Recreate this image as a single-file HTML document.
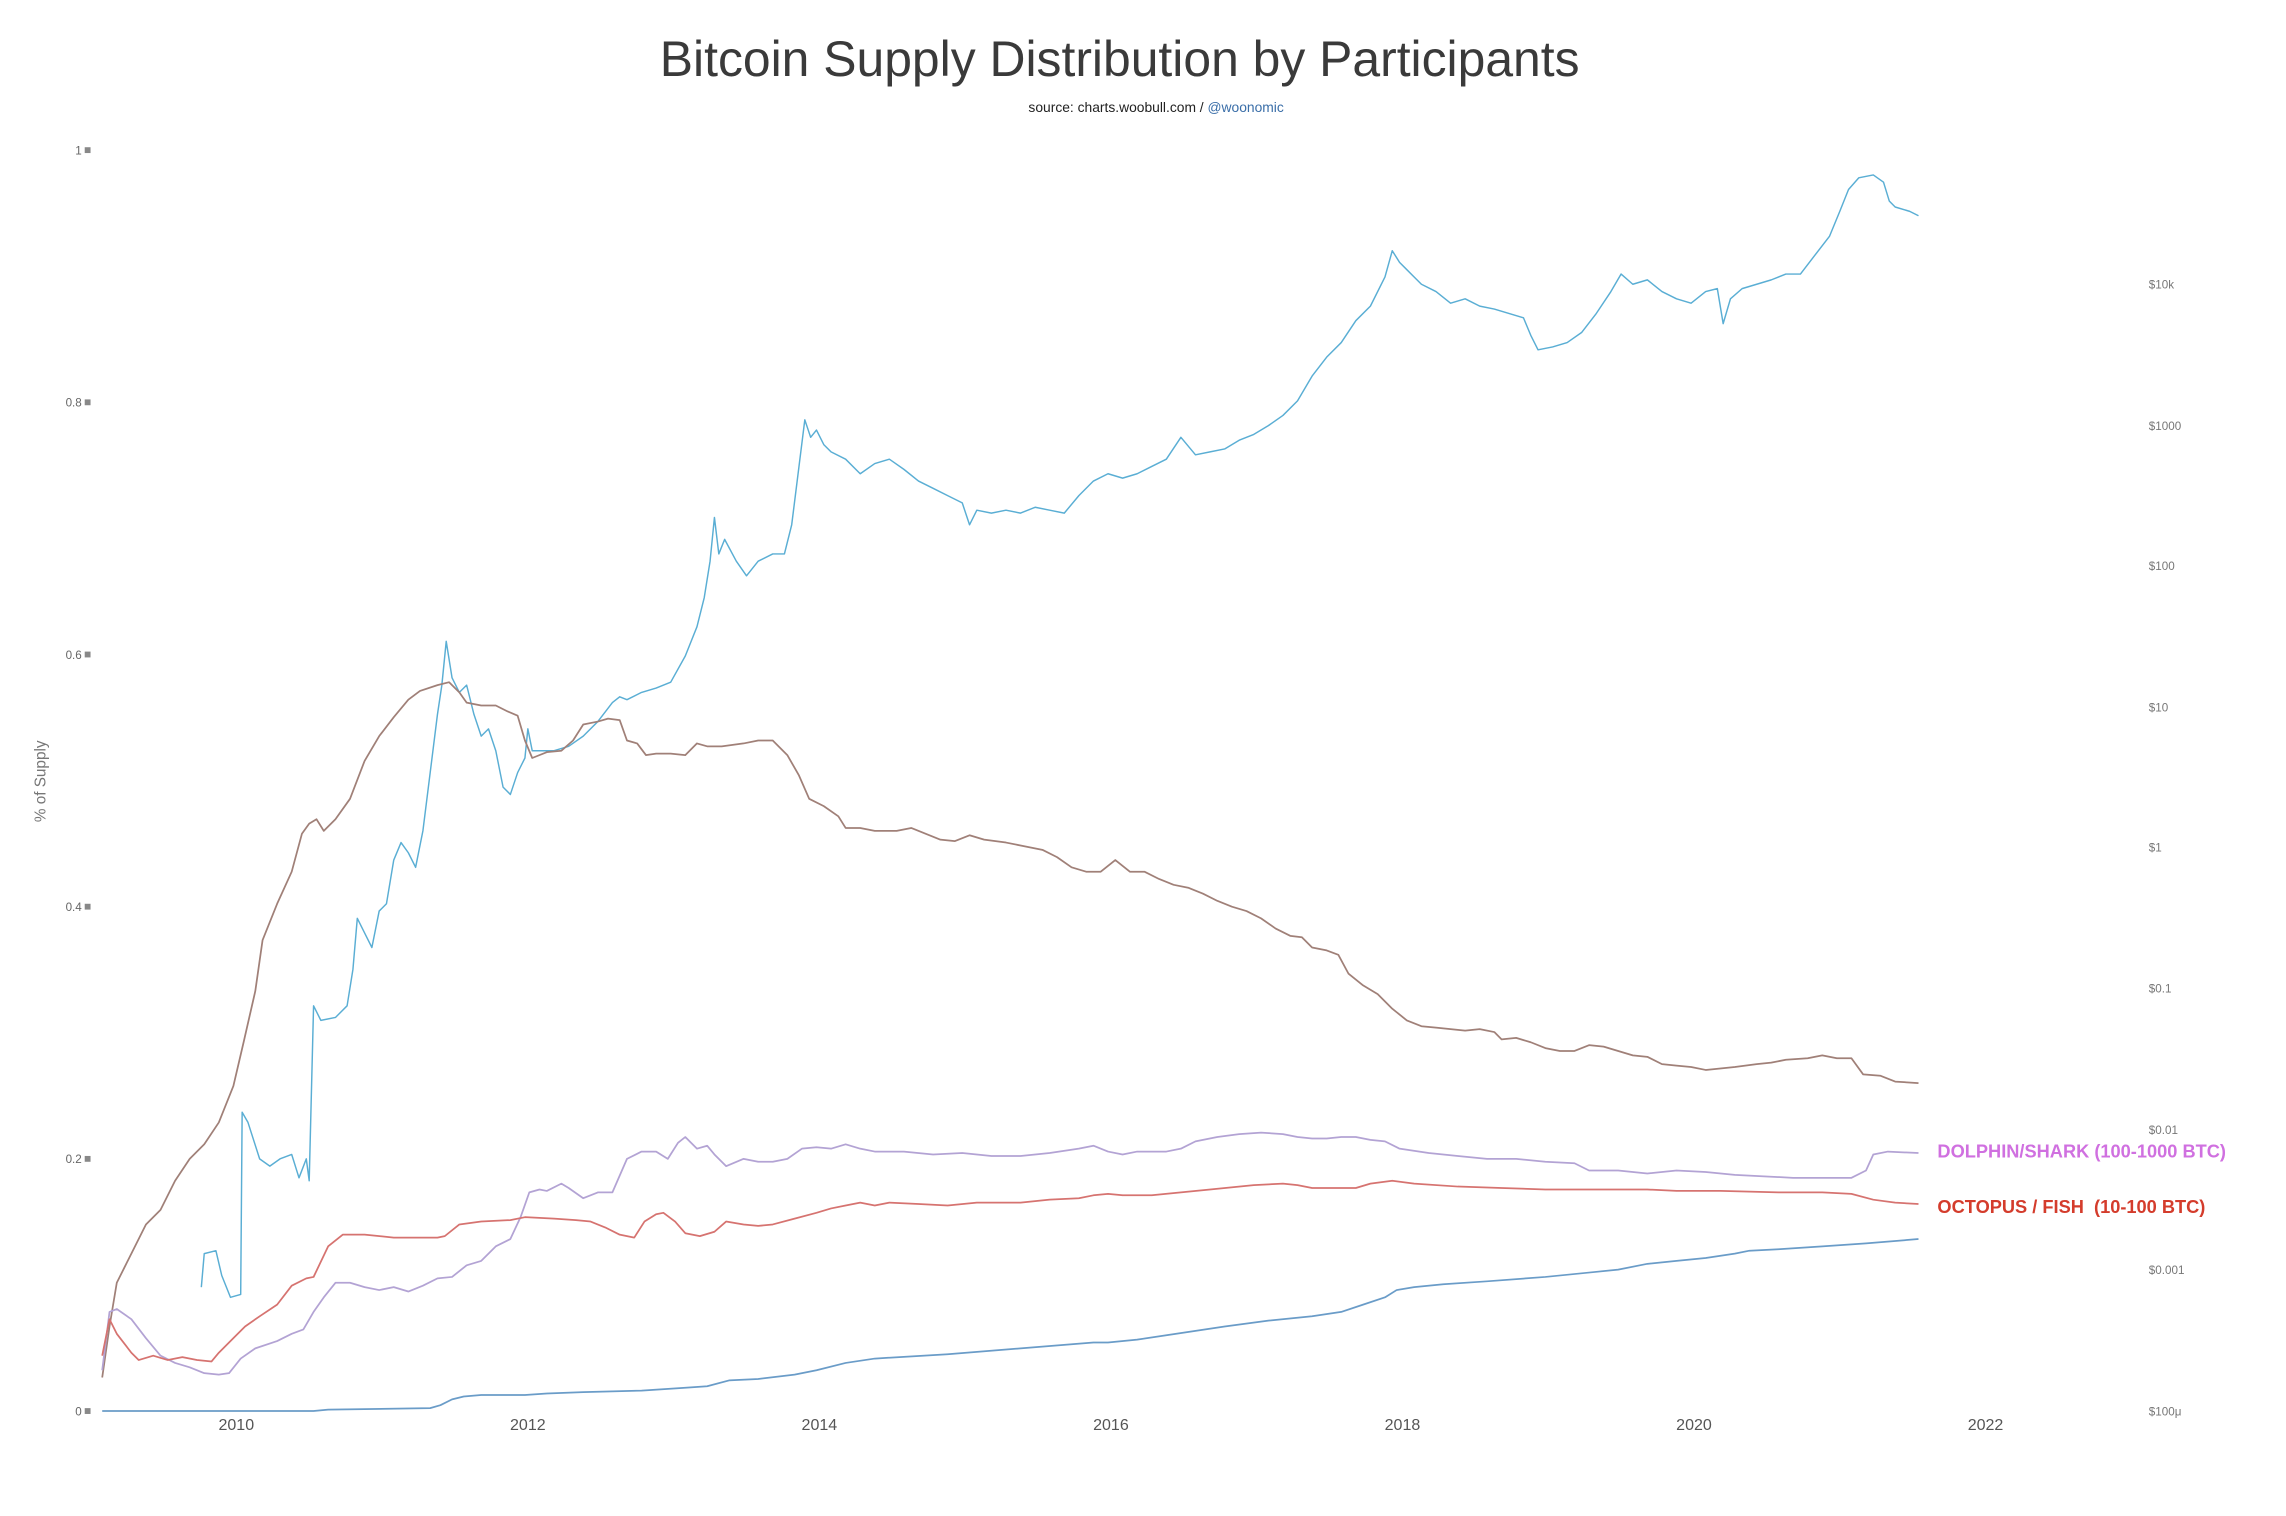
<!DOCTYPE html>
<html><head><meta charset="utf-8"><style>
html,body{margin:0;padding:0;background:#fff;}
svg{display:block;font-family:"Liberation Sans",sans-serif;}
</style></head><body>
<svg width="2286" height="1516" viewBox="0 0 1568 1040" xmlns="http://www.w3.org/2000/svg">
<rect width="1568" height="1040" fill="#fff"/>
<text x="768" y="52" text-anchor="middle" font-size="34.2" fill="#3a3a3a" font-weight="300">Bitcoin Supply Distribution by Participants</text>
<text x="793" y="77" text-anchor="middle" font-size="9.5" fill="#222">source: charts.woobull.com / <tspan fill="#3a6ea8">@woonomic</tspan></text>
<g font-size="8" fill="#666" text-anchor="end">
<text x="56" y="106">1</text><rect x="58" y="101" width="4" height="4" fill="#888"/>
<text x="56" y="279">0.8</text><rect x="58" y="274" width="4" height="4" fill="#888"/>
<text x="56" y="452">0.6</text><rect x="58" y="447" width="4" height="4" fill="#888"/>
<text x="56" y="625">0.4</text><rect x="58" y="620" width="4" height="4" fill="#888"/>
<text x="56" y="798">0.2</text><rect x="58" y="793" width="4" height="4" fill="#888"/>
<text x="56" y="971">0</text><rect x="58" y="966" width="4" height="4" fill="#888"/>
</g>
<text transform="translate(31,536) rotate(-90)" text-anchor="middle" font-size="10.5" fill="#777">% of Supply</text>
<g font-size="11" fill="#555" text-anchor="middle">
<text x="162" y="981">2010</text><text x="362" y="981">2012</text><text x="562" y="981">2014</text><text x="762" y="981">2016</text><text x="962" y="981">2018</text><text x="1162" y="981">2020</text><text x="1362" y="981">2022</text>
</g>
<g font-size="8" fill="#777">
<text x="1474" y="198">$10k</text><text x="1474" y="295">$1000</text><text x="1474" y="391">$100</text><text x="1474" y="488">$10</text><text x="1474" y="584">$1</text><text x="1474" y="681">$0.1</text><text x="1474" y="778">$0.01</text><text x="1474" y="874">$0.001</text><text x="1474" y="971">$100μ</text>
</g>
<g fill="none" stroke-width="1.2" stroke-linejoin="round">
<polyline stroke="#5aaed4" stroke-width="1" points="138,883 140,860 148,858 152,875 158,890 165,888 166,763 170,770 178,795 185,800 192,795 200,792 205,808 210,795 212,810 215,690 220,700 230,698 238,690 242,665 245,630 250,640 255,650 260,625 265,620 270,590 275,578 280,585 285,595 290,570 295,530 300,490 303,470 306,440 310,465 315,475 320,470 325,490 330,505 335,500 340,515 345,540 350,545 355,530 360,520 362,500 365,515 372,515 380,515 390,512 400,505 410,495 420,482 425,478 430,480 440,475 450,472 460,468 470,450 478,430 483,410 487,385 490,355 493,380 497,370 505,385 512,395 520,385 530,380 538,380 543,360 548,320 552,288 556,300 560,295 565,305 570,310 580,315 590,325 600,318 610,315 620,322 630,330 640,335 650,340 660,345 665,360 670,350 680,352 690,350 700,352 710,348 720,350 730,352 740,340 750,330 760,325 770,328 780,325 790,320 800,315 810,300 820,312 830,310 840,308 850,302 860,298 870,292 880,285 890,275 900,258 910,245 920,235 930,220 940,210 950,190 955,172 960,180 965,185 970,190 975,195 985,200 995,208 1005,205 1015,210 1025,212 1035,215 1045,218 1050,230 1055,240 1065,238 1075,235 1085,228 1095,215 1105,200 1112,188 1120,195 1130,192 1140,200 1150,205 1160,208 1170,200 1178,198 1182,222 1187,205 1195,198 1205,195 1215,192 1225,188 1235,188 1245,175 1255,162 1262,145 1268,130 1275,122 1285,120 1292,125 1296,138 1300,142 1310,145 1316,148"/>
<polyline stroke="#a08078" points="70,945 75,910 80,880 85,870 90,860 100,840 110,830 120,810 130,795 140,785 150,770 160,745 167,715 175,680 180,645 190,620 200,598 207,572 212,565 217,562 222,570 230,562 240,548 250,522 260,505 270,492 280,480 288,474 300,470 308,468 315,475 320,482 330,484 340,484 348,488 355,491 360,508 365,520 375,516 385,515 393,508 400,497 410,495 417,493 425,494 430,508 437,510 443,518 450,517 460,517 470,518 478,510 485,512 495,512 510,510 520,508 530,508 540,518 548,532 555,548 565,553 575,560 580,568 590,568 600,570 615,570 625,568 635,572 645,576 655,577 665,573 675,576 690,578 700,580 715,583 725,588 735,595 745,598 755,598 765,590 775,598 785,598 795,603 805,607 815,609 825,613 835,618 845,622 855,625 865,630 875,637 885,642 893,643 900,650 910,652 918,655 925,668 935,676 945,682 955,692 965,700 975,704 985,705 995,706 1005,707 1015,706 1025,708 1030,713 1040,712 1050,715 1060,719 1070,721 1080,721 1090,717 1100,718 1110,721 1120,724 1130,725 1140,730 1150,731 1160,732 1170,734 1180,733 1190,732 1205,730 1215,729 1225,727 1240,726 1250,724 1260,726 1270,726 1278,737 1290,738 1300,742 1316,743"/>
<polyline stroke="#b3a3d4" points="70,940 75,900 80,898 90,905 100,918 110,930 120,935 130,938 140,942 150,943 157,942 165,932 175,925 190,920 200,915 208,912 215,900 222,890 230,880 240,880 250,883 260,885 270,883 280,886 290,882 300,877 310,876 320,868 330,865 340,855 350,850 357,835 363,818 370,816 375,817 385,812 390,815 400,822 410,818 420,818 430,795 440,790 450,790 458,795 465,784 470,780 478,788 485,786 490,792 498,800 510,795 520,797 530,797 540,795 550,788 560,787 570,788 580,785 590,788 600,790 620,790 640,792 660,791 680,793 700,793 720,791 740,788 750,786 760,790 770,792 780,790 790,790 800,790 810,788 820,783 835,780 850,778 865,777 880,778 890,780 900,781 910,781 920,780 930,780 940,782 950,783 960,788 980,791 1000,793 1020,795 1040,795 1060,797 1080,798 1090,803 1110,803 1130,805 1150,803 1170,804 1190,806 1210,807 1230,808 1250,808 1270,808 1280,803 1285,792 1295,790 1316,791"/>
<polyline stroke="#d67370" points="70,930 75,905 80,915 90,928 95,933 105,930 115,933 125,931 135,933 145,934 150,928 160,918 168,910 178,903 190,895 200,882 210,877 215,876 225,855 235,847 250,847 270,849 300,849 305,848 315,840 330,838 350,837 360,835 380,836 395,837 405,838 415,842 425,847 435,849 442,838 450,833 455,832 463,838 470,846 480,848 490,845 498,838 510,840 520,841 530,840 545,836 560,832 570,829 580,827 590,825 600,827 610,825 630,826 650,827 670,825 700,825 720,823 740,822 750,820 760,819 770,820 790,820 810,818 830,816 860,813 880,812 890,813 900,815 910,815 930,815 940,812 955,810 970,812 1000,814 1030,815 1060,816 1100,816 1130,816 1150,817 1180,817 1220,818 1250,818 1270,819 1285,823 1300,825 1316,826"/>
<polyline stroke="#6a9cc8" points="70,968 215,968 225,967 295,966 302,964 310,960 318,958 330,957 360,957 375,956 400,955 440,954 470,952 485,951 500,947 520,946 545,943 560,940 580,935 600,932 650,929 700,925 750,921 760,921 780,919 800,916 820,913 840,910 870,906 900,903 920,900 935,895 950,890 958,885 970,883 990,881 1020,879 1060,876 1090,873 1110,871 1130,867 1150,865 1170,863 1190,860 1200,858 1220,857 1250,855 1280,853 1316,850"/>
</g>
<text x="1329" y="794" font-size="12.5" font-weight="bold" fill="#d070e0">DOLPHIN/SHARK (100-1000 BTC)</text>
<text x="1329" y="832" font-size="12.5" font-weight="bold" fill="#d43c2c" xml:space="preserve">OCTOPUS / FISH  (10-100 BTC)</text>
</svg>
</body></html>
